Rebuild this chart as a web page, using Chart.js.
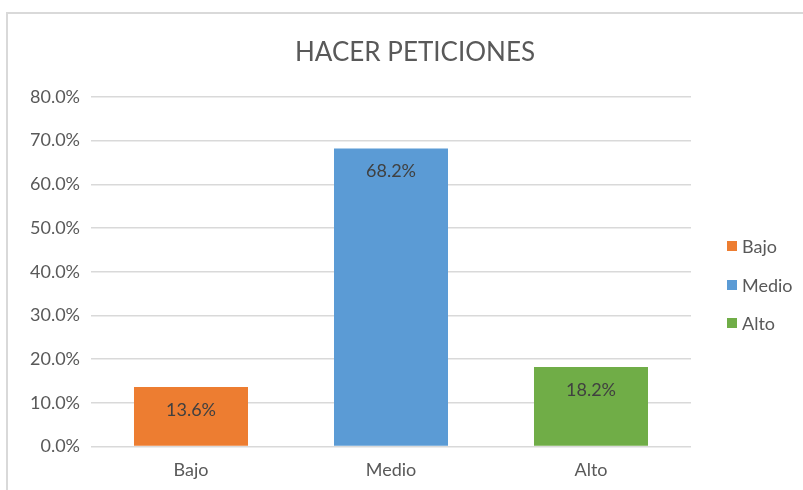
<!DOCTYPE html>
<html><head><meta charset="utf-8">
<script src="https://cdn.jsdelivr.net/npm/chart.js@4"></script>
<style>
html,body{margin:0;padding:0;background:#fff;overflow:hidden;}
#frame{position:absolute;left:6px;top:12px;width:797px;height:478px;border-left:2px solid #d9d9d9;border-top:2px solid #d9d9d9;}
#c{position:absolute;left:0;top:0;}
</style></head><body>
<div id="frame"><canvas id="c" width="795" height="476"></canvas></div>
<script>
const categories = ["Bajo", "Medio", "Alto"];
const values = [13.6, 68.2, 18.2];
const colors = ["#ED7D31", "#5B9BD5", "#70AD47"];
const titleText = "HACER PETICIONES";
const FONT = "Lato, 'Open Sans', sans-serif";

const decorPlugin = {
  id: 'decor',
  afterDatasetsDraw(chart) {
    const ctx = chart.ctx;
    const meta = chart.getDatasetMeta(0);
    ctx.save();
    ctx.font = "18px " + FONT;
    ctx.fillStyle = "#404040";
    ctx.textAlign = "center";
    ctx.textBaseline = "middle";
    meta.data.forEach((bar, i) => {
      ctx.fillText(values[i].toFixed(1) + "%", bar.x, bar.y + 23);
    });
    ctx.restore();
  },
  afterDraw(chart) {
    const ctx = chart.ctx;
    ctx.save();
    // title
    ctx.font = "26px " + FONT;
    ctx.fillStyle = "#595959";
    ctx.textAlign = "center";
    ctx.textBaseline = "middle";
    ctx.fillText(titleText, 407, 39);
    // legend
    const lx = chart.chartArea.right + 36;
    const ys = [232, 271, 309];
    ctx.font = "18px " + FONT;
    ctx.textAlign = "left";
    categories.forEach((c, i) => {
      ctx.fillStyle = colors[i];
      ctx.fillRect(lx, ys[i] - 5, 10, 10);
      ctx.fillStyle = "#595959";
      ctx.fillText(c, lx + 15, ys[i] + 1);
    });
    ctx.restore();
  }
};

new Chart(document.getElementById('c'), {
  type: 'bar',
  data: {
    labels: categories,
    datasets: [{ data: values, backgroundColor: colors, barPercentage: 0.57, categoryPercentage: 1 }]
  },
  options: {
    responsive: false,
    animation: false,
    layout: { padding: { left: 11, right: 112, top: 83, bottom: 4 } },
    plugins: {
      title: { display: false },
      legend: { display: false },
      tooltip: { enabled: false }
    },
    scales: {
      x: {
        grid: { display: false },
        border: { display: false },
        ticks: { color: "#595959", font: { family: FONT, size: 18 }, padding: 5 }
      },
      y: {
        min: 0, max: 80,
        ticks: { stepSize: 10, color: "#595959", font: { family: FONT, size: 18 }, padding: 11,
          callback: v => v.toFixed(1) + "%" },
        grid: { color: "#d9d9d9", lineWidth: 1.5, drawTicks: false },
        border: { display: false }
      }
    }
  },
  plugins: [decorPlugin]
});
</script>
</body></html>
